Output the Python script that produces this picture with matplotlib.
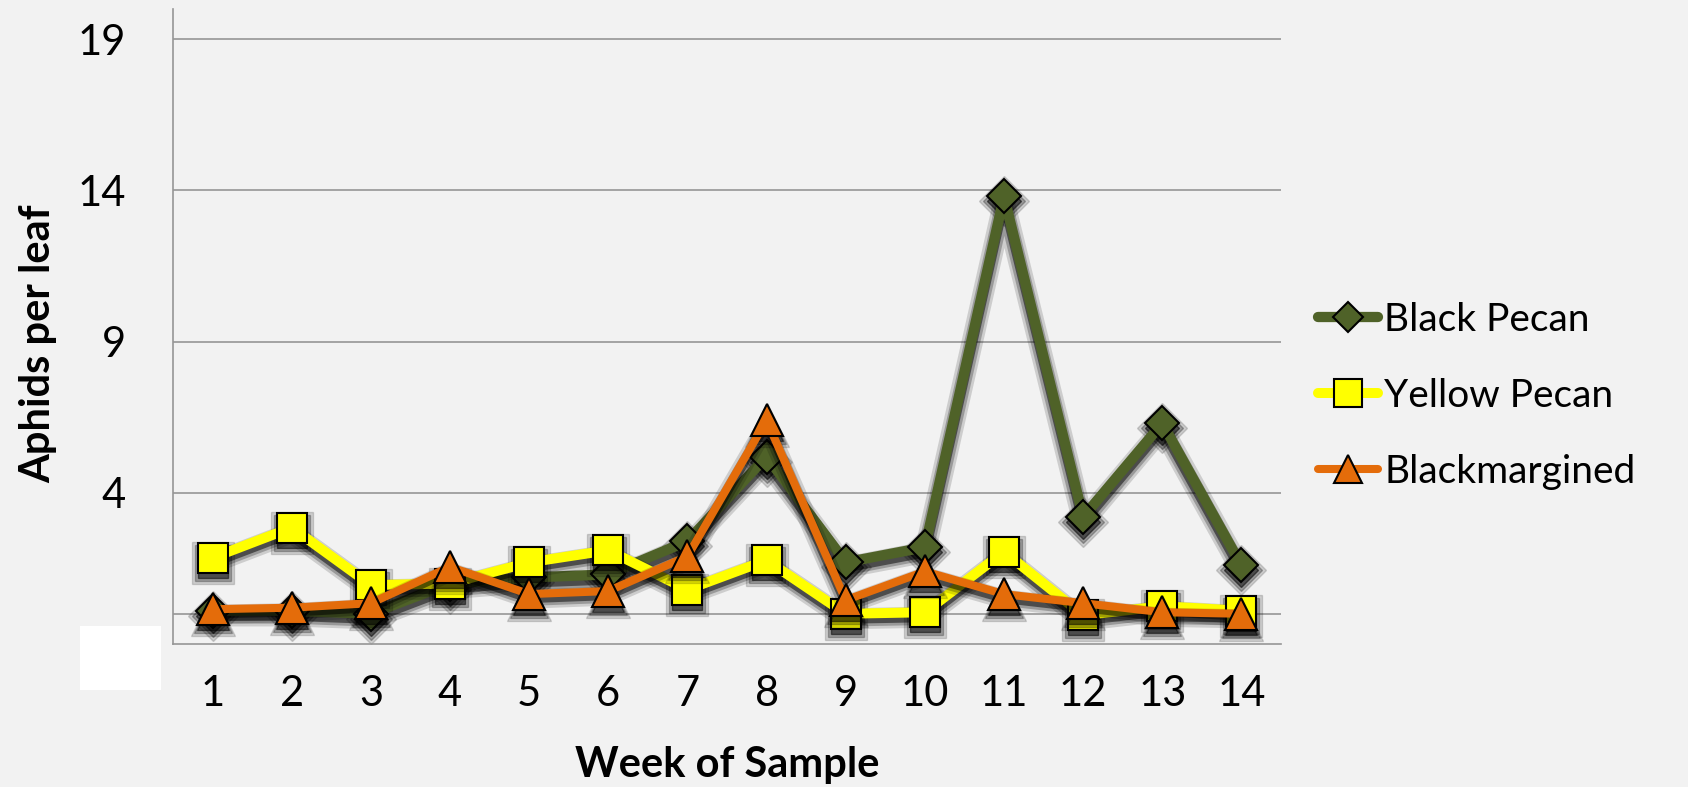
import matplotlib
matplotlib.use('Agg')
import matplotlib.pyplot as plt
import matplotlib.transforms as mtrans
from matplotlib.patches import Rectangle

# ---- data ----
weeks = list(range(1, 15))
week_labels = [str(w) for w in weeks]
black_pecan = [0.1, 0.1, 0.0, 1.0, 1.2, 1.3, 2.4, 5.2, 1.7, 2.2, 13.8, 3.2, 6.3, 1.6]
yellow_pecan = [1.85, 2.85, 0.95, 1.0, 1.7, 2.1, 0.8, 1.77, 0.0, 0.05, 2.05, -0.05, 0.25, 0.1]
blackmargined = [0.15, 0.2, 0.35, 1.55, 0.65, 0.75, 1.9, 6.4, 0.45, 1.4, 0.65, 0.35, 0.05, 0.0]
series_names = ["Black Pecan", "Yellow Pecan", "Blackmargined"]
y_ticks = [4, 9, 14, 19]

plt.rcParams['font.family'] = ['Lato', 'DejaVu Sans']

W, H = 1688, 787
fig = plt.figure(figsize=(W / 100, H / 100), dpi=100)
fig.patch.set_facecolor('#f2f2f2')

left, right, top, bottom = 173, 1281, 9, 644
ax = fig.add_axes([left / W, 1 - bottom / H, (right - left) / W, (bottom - top) / H])
ax.set_facecolor('#f2f2f2')

grid_c = '#969696'
ax.set_xlim(0.5, 14.5)
ax.set_ylim(-1, 20)
ax.set_yticks(y_ticks)
ax.set_yticklabels([str(t) for t in y_ticks])
ax.set_xticks(weeks)
ax.set_xticklabels(week_labels)
ax.tick_params(axis='both', length=0, labelsize=30, colors='black')
ax.tick_params(axis='y', pad=34)
ax.tick_params(axis='x', pad=22)
ax.yaxis.grid(True, color=grid_c, lw=1.2)
ax.set_axisbelow(True)
ax.axhline(0, color=grid_c, lw=1.2, zorder=0.5)
for s in ['top', 'right']:
    ax.spines[s].set_visible(False)
for s in ['left', 'bottom']:
    ax.spines[s].set_color(grid_c)
    ax.spines[s].set_linewidth(1.2)

styles = [
    dict(color='#4f6228', marker='D', ms=17, lw=7.4, mfc='#4f6228'),
    dict(color='#ffff00', marker='s', ms=22, lw=7.2, mfc='#ffff00'),
    dict(color='#e46c0a', marker='^', ms=23, lw=5.8, mfc='#e46c0a'),
]
data = [black_pecan, yellow_pecan, blackmargined]

offset = mtrans.ScaledTranslation(0, -5 / 100, fig.dpi_scale_trans)
handles = []
for i, (vals, st, name) in enumerate(zip(data, styles, series_names)):
    z = 3 + i * 2
    for extra, alpha in [(8, 0.15), (4, 0.25), (0, 0.5)]:
        ax.plot(weeks, vals, color='black', lw=st['lw'] + extra, alpha=alpha,
                marker=st['marker'], ms=st['ms'] + extra, mfc='black', mec='black',
                transform=ax.transData + offset, solid_joinstyle='round',
                solid_capstyle='round', zorder=z - 0.5)
    h, = ax.plot(weeks, vals, color=st['color'], lw=st['lw'], marker=st['marker'],
                 ms=st['ms'], mfc=st['mfc'], mec='black', mew=1.5,
                 solid_joinstyle='round', solid_capstyle='round', zorder=z, label=name)
    handles.append(h)

ax.set_xlabel('Week of Sample', fontsize=30, fontweight='bold')
ax.xaxis.set_label_coords(0.5, -0.16)
fig.text(38 / W, 1 - 344 / H, 'Aphids per leaf', rotation=90, fontsize=30,
         fontweight='bold', ha='center', va='center')

leg = fig.legend(handles=handles, loc='center left',
                 bbox_to_anchor=(1318 / W, 1 - 396 / H), frameon=False,
                 fontsize=28, handlelength=1.55, handletextpad=0.15,
                 labelspacing=1.03, borderpad=0, borderaxespad=0, markerscale=0.9)

fig.patches.append(Rectangle((80 / W, 1 - 690 / H), 81 / W, 64 / H,
                             transform=fig.transFigure, facecolor='white',
                             edgecolor='none', zorder=10))

fig.savefig('out.png', dpi=100, facecolor=fig.get_facecolor())
